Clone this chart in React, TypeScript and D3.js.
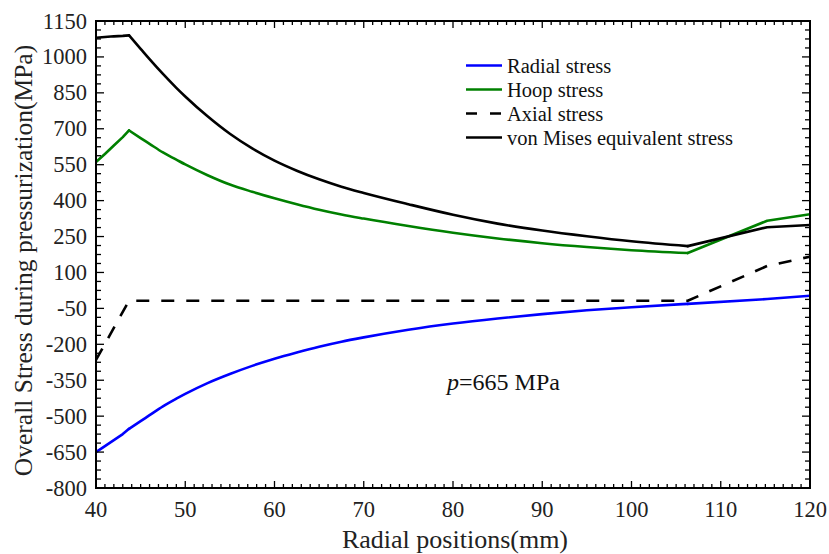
import React from "react";
import * as d3 from "d3";

const radius = [40, 41, 42, 43, 43.7, 45, 46, 47.5, 49, 50, 52.5, 55, 57.5, 60, 62.5, 65, 67.5, 70, 75, 80, 85, 90, 95, 100, 106.3, 115.2, 120];
const radialStress = [-650, -625, -600, -575, -553, -521, -496, -459, -427, -407, -362, -324, -290, -260, -234, -210, -189, -171, -139, -113, -92, -74, -58, -45, -31, -11, 3];
const hoopStress = [561, 595, 630, 665, 693, 661, 637, 601, 571, 551, 506, 467, 437, 410, 385, 362, 342, 325, 294, 266, 242, 222, 206, 193, 181, 316, 343];
const vonMisesStress = [1080, 1083, 1086, 1088, 1090, 1034, 991, 929, 871, 835, 752, 679, 618, 567, 525, 489, 458, 432, 385, 341, 304, 275, 251, 230, 210, 289, 298];
const axialRadius = [40, 43.7, 106.3, 115.2, 120];
const axialStress = [-265, -18, -18, 127, 166];

const xTicks = [40, 50, 60, 70, 80, 90, 100, 110, 120];
const yTicks = [-800, -650, -500, -350, -200, -50, 100, 250, 400, 550, 700, 850, 1000, 1150];

const legendItems = [
  { label: "Radial stress", color: "#0000ff", dash: "" },
  { label: "Hoop stress", color: "#008000", dash: "" },
  { label: "Axial stress", color: "#000000", dash: "11,13" },
  { label: "von Mises equivalent stress", color: "#000000", dash: "" },
];

const W = 829, H = 554;
const L = 96, R = 810, T = 21, B = 488;
const FONT = "'Liberation Serif', 'Times New Roman', serif";

export default function App() {
  const x = d3.scaleLinear().domain([40, 120]).range([L, R]);
  const y = d3.scaleLinear().domain([-800, 1150]).range([B, T]);

  const linLine = d3.line<[number, number]>().x(d => x(d[0])).y(d => y(d[1]));
  const smoothLine = d3.line<[number, number]>().x(d => x(d[0])).y(d => y(d[1])).curve(d3.curveMonotoneX);
  const pts = (xs: number[], ys: number[]) => xs.map((v, i) => [v, ys[i]] as [number, number]);
  // smooth between the two kinks (43.7 and 106.3), straight elsewhere
  const mkPieces = (xs: number[], ys: number[]) => {
    const p = pts(xs, ys);
    const a = p.filter(d => d[0] <= 43.7);
    const b = p.filter(d => d[0] >= 43.7 && d[0] <= 106.3);
    const c = p.filter(d => d[0] >= 106.3);
    return [linLine(a) || "", smoothLine(b) || "", linLine(c) || ""];
  };

  const xMinor = d3.range(40, 120.001, 1);
  const yMinor = d3.range(-800, 1150.001, 37.5);

  const series = [
    { d: mkPieces(radius, hoopStress), color: "#008000", dash: "" },
    { d: mkPieces(radius, vonMisesStress), color: "#000000", dash: "" },
    { d: [linLine(pts(axialRadius, axialStress)) || ""], color: "#000000", dash: "13,12" },
    { d: mkPieces(radius, radialStress), color: "#0000ff", dash: "" },
  ];

  return (
    <svg width={W} height={H} style={{ position: "absolute", left: 0, top: 0, background: "#fff" }} fontFamily={FONT}>
      <rect x={0} y={0} width={W} height={H} fill="#fff" />
      <defs>
        <clipPath id="plotclip">
          <rect x={L} y={T} width={R - L} height={B - T} />
        </clipPath>
      </defs>
      <g clipPath="url(#plotclip)">
        {series.map((s, i) =>
          s.d.map((dd, j) => (
            <path key={i + "-" + j} d={dd} fill="none" stroke={s.color} strokeWidth={2.6} strokeDasharray={s.dash || undefined} strokeLinejoin="round" strokeLinecap={s.dash ? "butt" : "round"} />
          ))
        )}
      </g>
      {/* ticks */}
      <g stroke="#000" strokeWidth={1.3}>
        {xMinor.map((v, i) => {
          const major = Math.abs((v - 40) % 10) < 1e-6;
          const len = major ? 7 : 4;
          return (
            <g key={"xm" + i}>
              <line x1={x(v)} x2={x(v)} y1={B} y2={B - len} />
              <line x1={x(v)} x2={x(v)} y1={T} y2={T + len} />
            </g>
          );
        })}
        {yMinor.map((v, i) => {
          const major = i % 4 === 0;
          const len = major ? 8 : 5;
          return (
            <g key={"ym" + i}>
              <line x1={L} x2={L + len} y1={y(v)} y2={y(v)} />
              <line x1={R} x2={R - len} y1={y(v)} y2={y(v)} />
            </g>
          );
        })}
      </g>
      <rect x={L} y={T} width={R - L} height={B - T} fill="none" stroke="#000" strokeWidth={2} />
      {/* tick labels */}
      <g fontSize={22.5} fill="#222">
        {xTicks.map(v => (
          <text key={"xt" + v} x={x(v)} y={517} textAnchor="middle">{v}</text>
        ))}
        {yTicks.map(v => (
          <text key={"yt" + v} x={87} y={y(v) + 7.5} textAnchor="end">{v}</text>
        ))}
      </g>
      <text x={455} y={548} textAnchor="middle" fontSize={26} fill="#222">Radial positions(mm)</text>
      <text transform={`translate(32,${(T + B) / 2 + 6}) rotate(-90)`} textAnchor="middle" fontSize={25.5} fill="#222">
        Overall Stress during pressurization(MPa)
      </text>
      {/* legend */}
      {legendItems.map((it, i) => {
        const ly = 65.5 + i * 24;
        return (
          <g key={"lg" + i}>
            <line x1={466} x2={502} y1={ly} y2={ly} stroke={it.color} strokeWidth={2.6} strokeDasharray={it.dash || undefined} />
            <text x={507} y={ly + 7} fontSize={20.5} fill="#111">{it.label}</text>
          </g>
        );
      })}
      <text x={447} y={390} fontSize={24} fill="#111">
        <tspan fontStyle="italic">p</tspan>=665 MPa
      </text>
    </svg>
  );
}
